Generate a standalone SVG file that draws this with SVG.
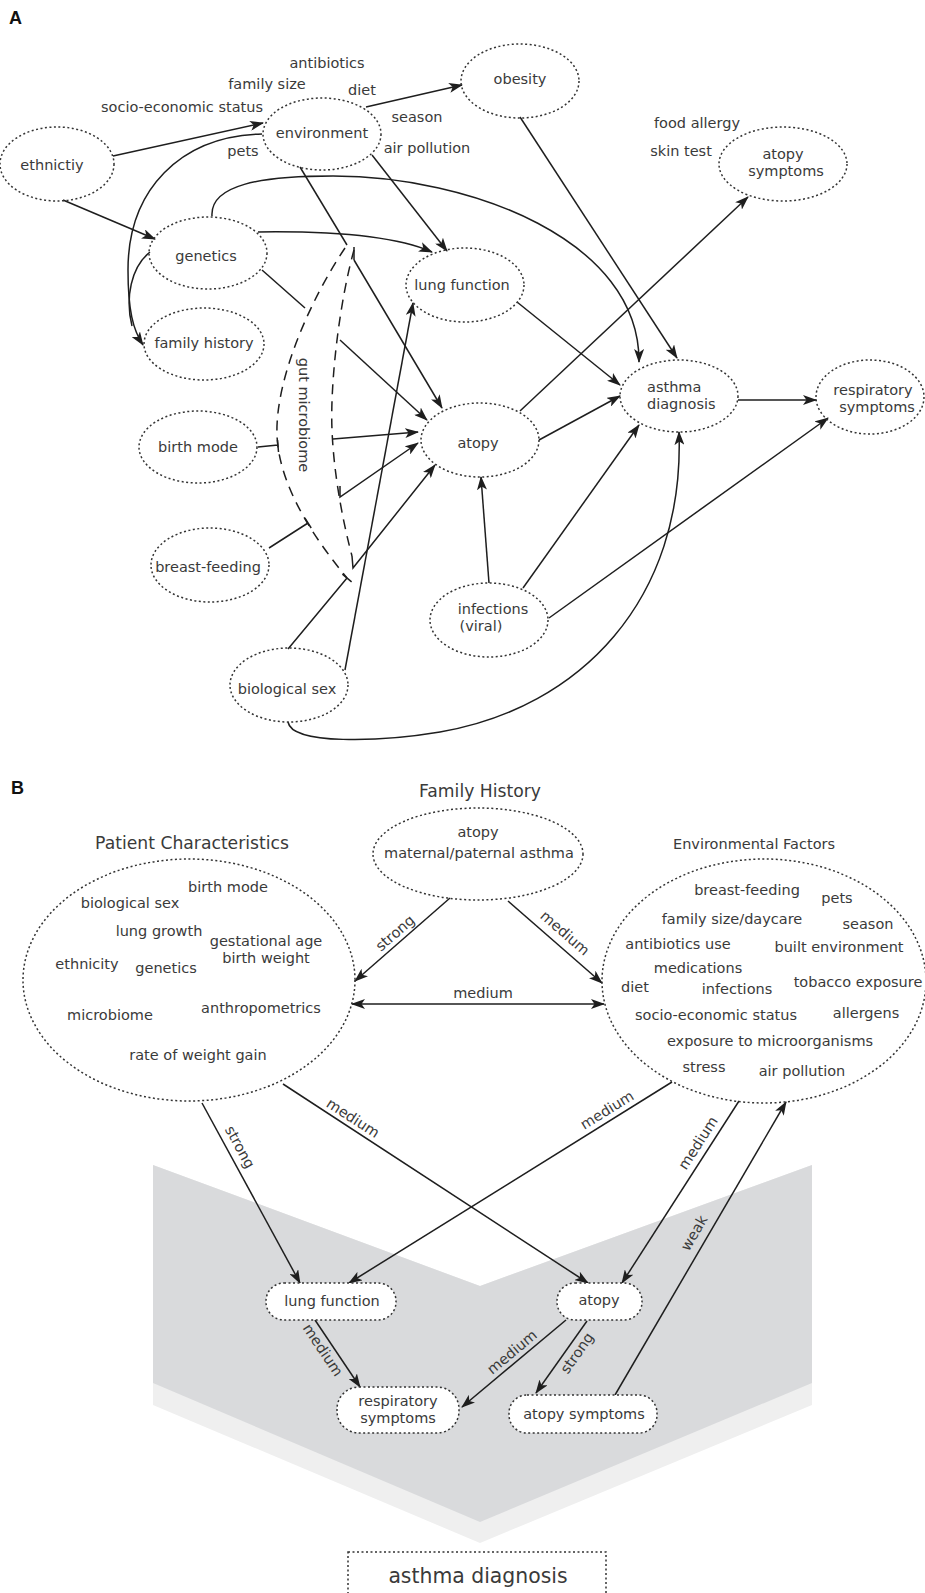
<svg xmlns="http://www.w3.org/2000/svg" width="925" height="1593" viewBox="0 0 925 1593">
<defs>
<style>
text{font-family:"DejaVu Sans","Open Sans",sans-serif;font-size:14.5px;fill:#3a3a3a}
.m{text-anchor:middle}
.ttl{font-size:17.2px}
.lbl{font-family:"Liberation Sans",Arial,sans-serif;font-weight:bold;font-size:18px;fill:#111}
.n ellipse,.n rect{fill:none;stroke:#333;stroke-width:1.5;stroke-dasharray:2 2.5}
.bx rect{fill:#fff}
.c path{fill:none;stroke:#1e1e1e;stroke-width:1.5}
.c .a{marker-end:url(#ah)}
.c .d{fill:none;stroke:#1e1e1e;stroke-width:1.5;stroke-dasharray:10 7}
</style>
<marker id="ah" viewBox="0 0 14 10" refX="13" refY="5" markerWidth="14" markerHeight="10" markerUnits="userSpaceOnUse" orient="auto-start-reverse">
<path d="M0,0 L14,5 L0,10 L3.5,5 z" fill="#1e1e1e"/>
</marker>
</defs>

<rect width="925" height="1593" fill="#fff"/>

<!-- Panel labels -->
<text class="lbl" x="9" y="24">A</text>
<text class="lbl" x="11" y="794">B</text>

<!-- ===== PANEL A ===== -->
<g id="a-factor-labels">
<text class="m" x="327" y="68">antibiotics</text>
<text class="m" x="267" y="89">family size</text>
<text class="m" x="362" y="95">diet</text>
<text class="m" x="182" y="112">socio-economic status</text>
<text class="m" x="243" y="156">pets</text>
<text class="m" x="417" y="122">season</text>
<text class="m" x="427" y="153">air pollution</text>
<text class="m" x="697" y="128">food allergy</text>
<text class="m" x="681" y="156">skin test</text>
</g>

<g id="a-connectors" class="c">
<path class="a" d="M113,156 L263,123"/>
<path class="a" d="M63,200 L155,239"/>
<path class="a" d="M262,134 C180,136 128,190 128,270 C128,310 133,330 143,345"/>
<path d="M150,252 C131,267 125,298 132,326"/>
<path class="a" d="M366,107 L462,85"/>
<path class="a" d="M372,155 L447,251"/>
<path d="M300,167 L347,245"/>
<path d="M354,247 L354,260"/>
<path class="a" d="M354,260 L442,408"/>
<path class="a" d="M258,232 C330,231 395,236 432,252"/>
<path class="a" d="M212,216 C210,185 260,176 333,176 C470,176 640,240 639,362"/>
<path d="M262,270 L305,308"/>
<path class="a" d="M340,340 L427,420"/>
<path class="a" d="M517,302 L620,385"/>
<path class="a" d="M520,117 L677,358"/>
<path class="a" d="M520,411 L748,197"/>
<path class="a" d="M539,440 L620,396"/>
<path class="a" d="M738,400 L816,400"/>
<path class="a" d="M489,583 L481,477"/>
<path class="a" d="M523,588 L639,425"/>
<path class="a" d="M549,618 L828,418"/>
<path class="a" d="M288,722 C292,745 380,742 440,732 C580,708 685,600 679,432"/>
<path class="a" d="M345,670 L413,303"/>
<!-- gut microbiome -->
<path class="d" d="M345,248 C310,300 275,380 277,435 C279,490 320,545 347,578"/>
<path class="d" d="M354,250 C340,300 330,380 332,430 C334,480 345,530 352,556"/>
<path d="M288,649 L347,578 M342.4,574.2 L351.6,581.8"/>
<path d="M258,447 L278,445 M277.5,440 L278.5,452"/>
<path d="M269,548 L308,523 M304.8,518 L311.2,528"/>
<path class="a" d="M352,556 L353,568 L435,465"/>
<path class="a" d="M333,439 L418,432"/>
<path class="a" d="M340,486 L340,497 L418,443"/>
</g>
<text transform="translate(299,415) rotate(90)" class="m">gut microbiome</text>

<g id="a-ethnicity" class="n"><ellipse cx="57" cy="164" rx="57" ry="37"/><text class="m" x="52" y="170">ethnictiy</text></g>
<g id="a-environment" class="n"><ellipse cx="322" cy="134" rx="59" ry="36"/><text class="m" x="322" y="138">environment</text></g>
<g id="a-obesity" class="n"><ellipse cx="520" cy="81" rx="59" ry="37"/><text class="m" x="520" y="84">obesity</text></g>
<g id="a-atopy-symptoms" class="n"><ellipse cx="783" cy="164" rx="64" ry="37"/><text class="m"><tspan x="783" y="159">atopy</tspan><tspan x="786" y="176">symptoms</tspan></text></g>
<g id="a-genetics" class="n"><ellipse cx="208" cy="253" rx="59" ry="36"/><text class="m" x="206" y="261">genetics</text></g>
<g id="a-family-history" class="n"><ellipse cx="204" cy="344" rx="60" ry="36"/><text class="m" x="204" y="348">family history</text></g>
<g id="a-lung-function" class="n"><ellipse cx="465" cy="285" rx="59" ry="37"/><text class="m" x="462" y="290">lung function</text></g>
<g id="a-asthma-diagnosis" class="n"><ellipse cx="679" cy="396" rx="59" ry="36"/><text><tspan x="647" y="392">asthma</tspan><tspan x="647" y="409">diagnosis</tspan></text></g>
<g id="a-respiratory-symptoms" class="n"><ellipse cx="870" cy="397" rx="54" ry="37"/><text class="m"><tspan x="873" y="395">respiratory</tspan><tspan x="877" y="412">symptoms</tspan></text></g>
<g id="a-atopy" class="n"><ellipse cx="480" cy="440" rx="59" ry="37"/><text class="m" x="478" y="448">atopy</text></g>
<g id="a-birth-mode" class="n"><ellipse cx="198" cy="447" rx="59" ry="36"/><text class="m" x="198" y="452">birth mode</text></g>
<g id="a-breast-feeding" class="n"><ellipse cx="210" cy="565" rx="59" ry="37"/><text class="m" x="208" y="572">breast-feeding</text></g>
<g id="a-infections" class="n"><ellipse cx="489" cy="620" rx="59" ry="37"/><text class="m"><tspan x="493" y="614">infections</tspan><tspan x="481" y="631">(viral)</tspan></text></g>
<g id="a-biological-sex" class="n"><ellipse cx="289" cy="685" rx="59" ry="37"/><text class="m" x="287" y="694">biological sex</text></g>

<!-- ===== PANEL B ===== -->
<g id="b-background">
<polygon points="153,1165 480,1286 812,1165 812,1405 480,1543 153,1405" fill="#efefef"/>
<polygon points="153,1165 480,1286 812,1165 812,1383 480,1522 153,1383" fill="#d9dadc"/>
</g>

<text class="m ttl" x="480" y="797">Family History</text>
<text class="m ttl" x="192" y="849">Patient Characteristics</text>
<text class="m" x="754" y="849">Environmental Factors</text>

<g id="b-connectors" class="c">
<path class="a" d="M450,898 L355,981"/>
<path class="a" d="M508,901 L602,983"/>
<path class="a" d="M352,1004 L604,1004" style="marker-start:url(#ah)"/>
<path class="a" d="M202,1103 L300,1283"/>
<path class="a" d="M283,1084 L588,1283"/>
<path class="a" d="M672,1082 L349,1283"/>
<path class="a" d="M739,1101 L622,1283"/>
<path class="a" d="M615,1395 L786,1102"/>
<path class="a" d="M315,1320 L360,1387"/>
<path class="a" d="M566,1320 L462,1407"/>
<path class="a" d="M587,1321 L536,1393"/>
</g>

<g id="b-edge-labels">
<text class="m" transform="translate(395,933) rotate(-41.1)" y="5">strong</text>
<text class="m" transform="translate(565,933) rotate(41.1)" y="5">medium</text>
<text class="m" x="483" y="998">medium</text>
<text class="m" transform="translate(240,1147) rotate(61.4)" y="5">strong</text>
<text class="m" transform="translate(353,1118) rotate(33.1)" y="5">medium</text>
<text class="m" transform="translate(607,1110) rotate(-31.9)" y="5">medium</text>
<text class="m" transform="translate(698,1143) rotate(-57.3)" y="5">medium</text>
<text class="m" transform="translate(694,1233) rotate(-59.9)" y="5">weak</text>
<text class="m" transform="translate(323,1350) rotate(56.1)" y="5">medium</text>
<text class="m" transform="translate(512,1352) rotate(-39.9)" y="5">medium</text>
<text class="m" transform="translate(577,1353) rotate(-54.7)" y="5">strong</text>
</g>

<g id="b-family-history" class="n">
<ellipse cx="478" cy="854" rx="105" ry="46"/>
<text class="m"><tspan x="478" y="837">atopy</tspan><tspan x="479" y="858">maternal/paternal asthma</tspan></text>
</g>

<g id="b-patient-characteristics" class="n">
<ellipse cx="189" cy="980" rx="166" ry="121"/>
<text class="m" x="228" y="892">birth mode</text>
<text class="m" x="130" y="908">biological sex</text>
<text class="m" x="159" y="936">lung growth</text>
<text class="m"><tspan x="266" y="946">gestational age</tspan><tspan x="266" y="963">birth weight</tspan></text>
<text class="m" x="87" y="969">ethnicity</text>
<text class="m" x="166" y="973">genetics</text>
<text class="m" x="261" y="1013">anthropometrics</text>
<text class="m" x="110" y="1020">microbiome</text>
<text class="m" x="198" y="1060">rate of weight gain</text>
</g>

<g id="b-environmental-factors" class="n">
<ellipse cx="764" cy="981" rx="162" ry="122"/>
<text class="m" x="747" y="895">breast-feeding</text>
<text class="m" x="837" y="903">pets</text>
<text class="m" x="732" y="924">family size/daycare</text>
<text class="m" x="868" y="929">season</text>
<text class="m" x="678" y="949">antibiotics use</text>
<text class="m" x="839" y="952">built environment</text>
<text class="m" x="698" y="973">medications</text>
<text class="m" x="635" y="992">diet</text>
<text class="m" x="737" y="994">infections</text>
<text class="m" x="858" y="987">tobacco exposure</text>
<text class="m" x="716" y="1020">socio-economic status</text>
<text class="m" x="866" y="1018">allergens</text>
<text class="m" x="770" y="1046">exposure to microorganisms</text>
<text class="m" x="704" y="1072">stress</text>
<text class="m" x="802" y="1076">air pollution</text>
</g>

<g id="b-lung-function" class="n bx"><rect x="266" y="1283" width="130" height="37" rx="18"/><text class="m" x="332" y="1306">lung function</text></g>
<g id="b-atopy" class="n bx"><rect x="557" y="1283" width="85" height="37" rx="18"/><text class="m" x="599" y="1305">atopy</text></g>
<g id="b-respiratory-symptoms" class="n bx"><rect x="337" y="1387" width="122" height="46" rx="22"/><text class="m"><tspan x="398" y="1406">respiratory</tspan><tspan x="398" y="1423">symptoms</tspan></text></g>
<g id="b-atopy-symptoms" class="n bx"><rect x="509" y="1395" width="148" height="38" rx="18"/><text class="m" x="584" y="1419">atopy symptoms</text></g>
<g id="b-asthma-diagnosis" class="n"><rect x="348" y="1552" width="258" height="60"/><text class="m" x="478" y="1583" style="font-size:20.4px">asthma diagnosis</text></g>
</svg>
